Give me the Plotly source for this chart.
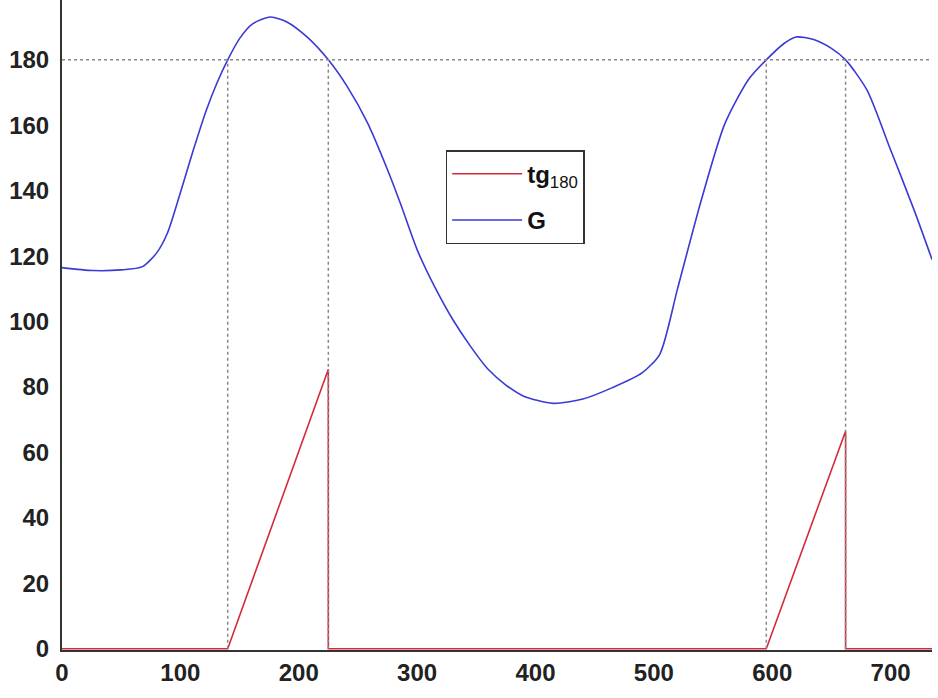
import plotly.graph_objects as go

# G curve samples (x, value)
g_x = [0, 26, 50, 68, 80, 89, 100, 111, 122, 131, 140, 150, 161, 176, 190, 207, 225,
       241, 258, 275, 286, 300, 315, 330, 345, 360, 375, 390, 415, 440, 465, 490, 505,
       520, 540, 560, 580, 595, 610, 620, 635, 650, 662, 680, 700, 720, 735]
g_y = [116.5, 115.6, 115.8, 116.8, 121.0, 127.0, 139.4, 152.5, 164.7, 173.0, 180.0, 186.5,
       191.0, 193.1, 191.6, 187.0, 180.0, 171.8, 160.8, 146.4, 136.0, 122.0, 110.5, 100.7,
       92.5, 85.4, 80.6, 77.2, 75.0, 76.3, 79.8, 84.3, 90.0, 110.0, 137.0, 160.5, 174.0,
       180.0, 185.0, 187.0, 186.2, 183.5, 180.0, 170.8, 152.5, 134.0, 119.0]

# tg180: time spent above 180 (resets when G drops below)
tg_x = [0, 140, 225, 225, 595, 662, 662, 735]
tg_y = [0, 0, 85.4, 0, 0, 66.5, 0, 0]

threshold = 180
crossings = [140, 225, 595, 662]

fig = go.Figure()

fig.add_trace(go.Scatter(x=tg_x, y=tg_y, mode="lines", name="<b>tg</b><sub>180</sub>",
                         legendgroup="a", line=dict(color="#d42a3c", width=1.6)))
fig.add_trace(go.Scatter(x=g_x, y=g_y, mode="lines", name="<b>G</b>", line_shape="spline",
                         legendgroup="b", line=dict(color="#3a3ad4", width=1.6, smoothing=0.7)))

# dotted guide lines
vx, vy = [], []
for c in crossings:
    vx += [c, c, None]
    vy += [0, threshold, None]
fig.add_trace(go.Scatter(x=vx, y=vy, mode="lines", showlegend=False, hoverinfo="skip",
                         line=dict(color="#888888", width=1.5, dash="dot")))
fig.add_trace(go.Scatter(x=[0, 735], y=[threshold, threshold], mode="lines", showlegend=False,
                         hoverinfo="skip", line=dict(color="#888888", width=1.5, dash="dot")))

tick_font = dict(size=24, family="Liberation Sans, Arial, sans-serif", color="#222222", weight="bold")
fig.update_layout(
    width=938, height=698,
    margin=dict(l=62, r=6, t=0, b=48, autoexpand=False),
    plot_bgcolor="white", paper_bgcolor="white",
    font=dict(family="Liberation Sans, Arial, sans-serif", color="#222222"),
    showlegend=True,
    legend=dict(x=0.441, y=0.769, xanchor="left", yanchor="top",
                bordercolor="#333333", borderwidth=1.5, bgcolor="white",
                font=dict(size=24, family="Liberation Sans, Arial, sans-serif", color="#111111"),
                itemwidth=70, tracegroupgap=12, entrywidth=66),
    xaxis=dict(range=[0, 735], tickvals=[0, 100, 200, 300, 400, 500, 600, 700],
               showgrid=False, zeroline=False, showline=True, linecolor="#333333", linewidth=2,
               ticks="", tickfont=tick_font, layer="below traces", automargin=False),
    yaxis=dict(range=[-0.4, 198.3], tickvals=[0, 20, 40, 60, 80, 100, 120, 140, 160, 180],
               showgrid=False, zeroline=False, showline=True, linecolor="#333333", linewidth=2,
               ticks="", tickfont=tick_font, layer="below traces", ticklabelstandoff=6,
               automargin=False),
)

fig.write_html("out.html", config={"displayModeBar": False},
               post_script="document.body.style.margin='0';")
